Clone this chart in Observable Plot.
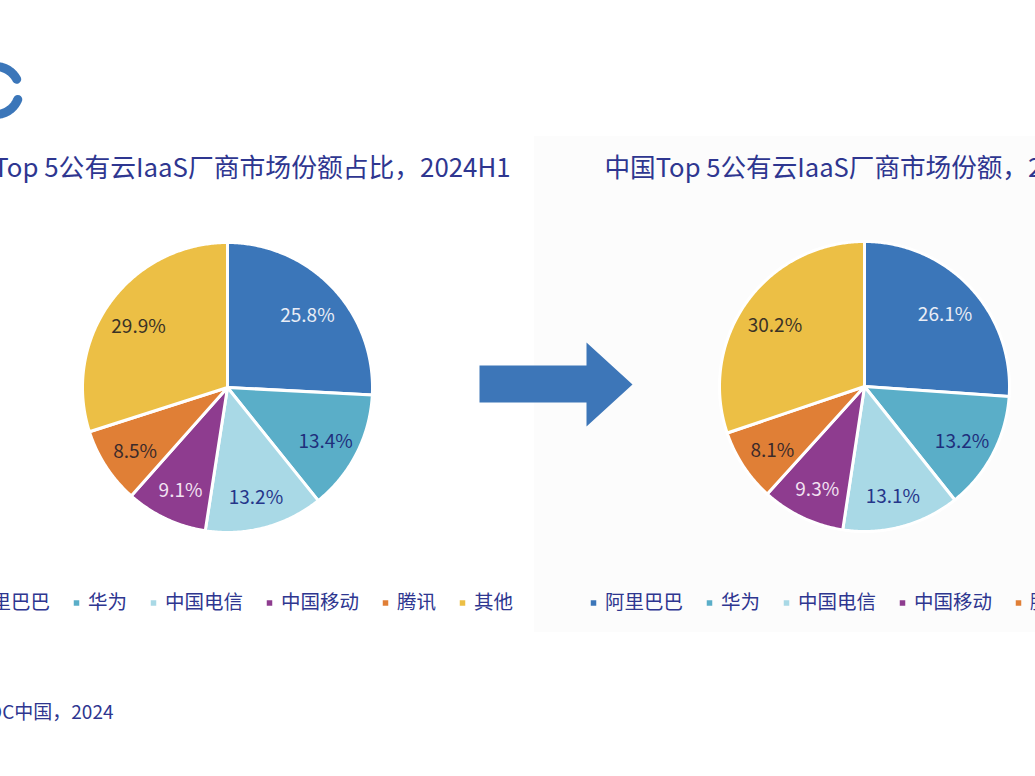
<!DOCTYPE html>
<html><head><meta charset="utf-8">
<script src="https://cdn.jsdelivr.net/npm/d3@7"></script>
<script src="https://cdn.jsdelivr.net/npm/@observablehq/plot@0.6"></script>
<style>body{margin:0;background:#fff;overflow:hidden;} #chart svg{display:block}</style>
</head><body><div id="chart"></div>
<script>
// ---- data ----
const vendors = ["阿里巴巴", "华为", "中国电信", "中国移动", "腾讯", "其他"];
const shareLeft = [25.8, 13.4, 13.2, 9.1, 8.5, 29.9];
const shareRight = [26.1, 13.2, 13.1, 9.3, 8.1, 30.2];
const sliceColors = ["#3b76b9", "#5aaec8", "#a9d9e6", "#8e3c8f", "#e07f36", "#ecbf45"];
const labelColors = ["#e9edf6", "#1f2f7c", "#25358a", "#f2e2f2", "#3b2a2a", "#3a3226"];
const titleLeft = "中国Top 5公有云IaaS厂商市场份额占比，2024H1";
const titleRight = "中国Top 5公有云IaaS厂商市场份额，2024H1";
const captionText = "来源：IDC中国，2024";

// ---- layout ----
const W = 1035, H = 776;
const navy = "#2e3690";
const font = "'Noto Sans CJK SC', 'Noto Sans', sans-serif";
const R = 145, labelR = 0.76 * R, labelDy = 4;
const pies = [
  {id: "L", values: shareLeft, cx: 227, cy: 387, legendX: -40, title: titleLeft, titleX: 510, anchor: "end"},
  {id: "R", values: shareRight, cx: 864, cy: 386, legendX: 593, title: titleRight, titleX: 604, anchor: "start"}
];
const titleY = 168, legendY = 602.5;

const slicePts = [], sliceLabels = [], legendItems = [], titles = [];
for (const p of pies) {
  const total = d3.sum(p.values);
  let acc = 0;
  p.values.forEach((v, i) => {
    const a0 = acc / total * 2 * Math.PI, a1 = (acc + v) / total * 2 * Math.PI;
    acc += v;
    const key = p.id + i, fill = sliceColors[i];
    slicePts.push({key, x: p.cx, y: p.cy, fill});
    const n = Math.max(4, Math.ceil((a1 - a0) / 0.01));
    for (let k = 0; k <= n; k++) {
      const a = a0 + (a1 - a0) * k / n;
      slicePts.push({key, x: p.cx + R * Math.sin(a), y: p.cy - R * Math.cos(a), fill});
    }
    slicePts.push({key, x: p.cx, y: p.cy, fill});
    const am = (a0 + a1) / 2;
    sliceLabels.push({x: p.cx + labelR * Math.sin(am), y: p.cy - labelR * Math.cos(am) + labelDy, text: v.toFixed(1) + "%", color: labelColors[i]});
  });
  let lx = p.legendX;
  vendors.forEach((name, i) => {
    legendItems.push({x: lx, y: legendY, name, color: sliceColors[i]});
    lx += 38 + 19.5 * name.length;
  });
  titles.push({x: p.titleX, y: titleY, text: p.title, anchor: p.anchor});
}

// arrow and logo outlines
const arrow = {x0: 479, xh: 586, xt: 632, sTop: 365, sBot: 402, hTop: 342, hBot: 426, yt: 384};
const arrowPts = [
  [arrow.x0, arrow.sTop], [arrow.xh, arrow.sTop], [arrow.xh, arrow.hTop], [arrow.xt, arrow.yt],
  [arrow.xh, arrow.hBot], [arrow.xh, arrow.sBot], [arrow.x0, arrow.sBot], [arrow.x0, arrow.sTop]
].map(([x, y]) => ({x, y}));
const logo = {cx: -5, cy: 90, r: 24, t0: 22, t1: 333};
const logoPts = d3.range(logo.t0, logo.t1 + 1, 2).map(t => ({
  x: logo.cx + logo.r * Math.cos(t * Math.PI / 180),
  y: logo.cy + logo.r * Math.sin(t * Math.PI / 180)
}));
const panel = [{x1: 534, x2: W, y1: 136, y2: 632}];

const chart = Plot.plot({
  width: W, height: H,
  marginTop: 0, marginRight: 0, marginBottom: 0, marginLeft: 0,
  x: {domain: [0, W], range: [0, W], axis: null},
  y: {domain: [0, H], range: [0, H], axis: null},
  color: {type: "identity"},
  style: {fontFamily: font, background: "#fff", overflow: "hidden"},
  marks: [
    Plot.rect(panel, {x1: "x1", x2: "x2", y1: "y1", y2: "y2", fill: "#fcfcfc"}),
    Plot.line(logoPts, {x: "x", y: "y", stroke: "#3b76b9", strokeWidth: 9, strokeLinecap: "round"}),
    Plot.text(titles.filter(t => t.anchor === "end"), {x: "x", y: "y", text: "text", textAnchor: "end", fontSize: 25.8, fill: navy}),
    Plot.text(titles.filter(t => t.anchor === "start"), {x: "x", y: "y", text: "text", textAnchor: "start", fontSize: 25.6, fill: navy}),
    Plot.line(slicePts, {x: "x", y: "y", z: "key", fill: "fill", stroke: "white", strokeWidth: 3, strokeLinejoin: "round"}),
    Plot.text(sliceLabels, {x: "x", y: "y", text: "text", fill: "color", fontSize: 19}),
    Plot.line(arrowPts, {x: "x", y: "y", fill: "#3d76b8", stroke: "none"}),
    Plot.dot(legendItems, {x: "x", y: "y", symbol: "square", r: 3.1, fill: "color", stroke: null}),
    Plot.text(legendItems, {x: d => d.x + 11.5, y: "y", text: "name", textAnchor: "start", fontSize: 19.5, fill: navy}),
    Plot.text([{x: 113, y: 712, text: captionText}], {x: "x", y: "y", text: "text", textAnchor: "end", fontSize: 19, fill: navy})
  ]
});
document.getElementById("chart").appendChild(chart);
</script>
</body></html>
